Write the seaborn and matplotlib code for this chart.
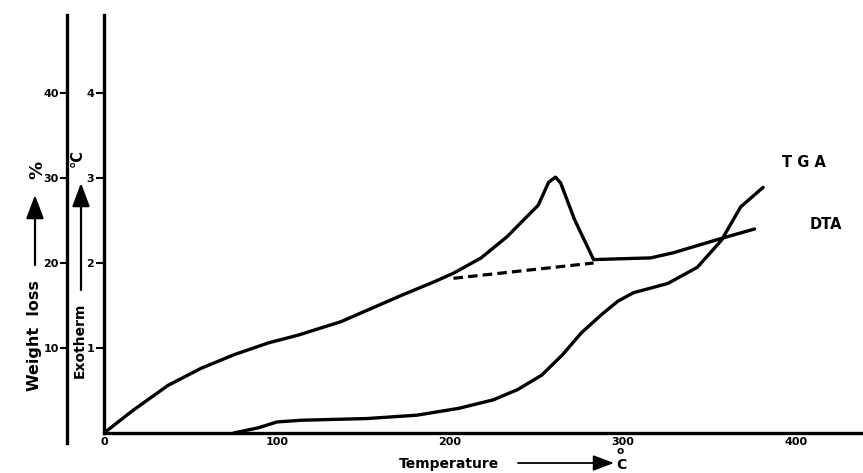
import matplotlib
matplotlib.use("Agg")
import matplotlib.pyplot as plt
import seaborn as sns
import pandas as pd

# ---- data ----
dta_temp = [0, 17, 37, 56, 75, 95, 112, 137, 172, 191, 202, 218, 233, 251, 257, 261, 264, 272, 283,
            299, 316, 329, 357, 376]
dta_val = [0, 0.27, 0.56, 0.76, 0.92, 1.06, 1.15, 1.31, 1.62, 1.78, 1.88, 2.06, 2.31, 2.68, 2.95, 3.01,
           2.94, 2.51, 2.04, 2.05, 2.06, 2.12, 2.29, 2.40]

base_temp = [202, 283]
base_val = [1.82, 2.0]

tga_temp = [75, 89, 100, 114, 152, 181, 205, 225, 239, 253, 265, 276, 288, 297, 306, 326, 343, 357,
            368, 381]
tga_loss = [0, 0.6, 1.3, 1.5, 1.7, 2.1, 2.9, 3.9, 5.1, 6.8, 9.2, 11.8, 14.0, 15.5, 16.5, 17.6, 19.5,
            22.7, 26.6, 28.9]

x_ticks = [0, 100, 200, 300, 400]
exo_ticks = [1, 2, 3, 4]
wl_ticks = [10, 20, 30, 40]

sns.set_style("white")
plt.rcParams["font.family"] = ["DejaVu Sans"]
plt.rcParams["font.weight"] = "bold"
plt.rcParams["text.color"] = "black"
plt.rcParams["axes.edgecolor"] = "black"
plt.rcParams["xtick.color"] = "black"
plt.rcParams["ytick.color"] = "black"

W, H = 863, 473
fig = plt.figure(figsize=(W / 100, H / 100), dpi=100)
x0, y0, ytop = 104, 433, 15
ax = fig.add_axes([x0 / W, (H - y0) / H, (W - x0) / W, (y0 - ytop) / H])
ax.patch.set_alpha(0)

px_per_deg = 1.73
px_per_unit = 85.0
ax.set_xlim(0, (W - x0) / px_per_deg)
ymax = (y0 - ytop) / px_per_unit
ax.set_ylim(0, ymax)

lw = 2.4
df_dta = pd.DataFrame({"T": dta_temp, "v": dta_val})
df_base = pd.DataFrame({"T": base_temp, "v": base_val})
sns.lineplot(data=df_dta, x="T", y="v", ax=ax, color="black", lw=lw, sort=False,
             solid_capstyle="round", solid_joinstyle="round")
sns.lineplot(data=df_base, x="T", y="v", ax=ax, color="black", lw=2.3, sort=False,
             linestyle=(0, (3, 1.6)))

for s in ["top", "right"]:
    ax.spines[s].set_visible(False)
for s in ["left", "bottom"]:
    ax.spines[s].set_linewidth(2.4)
    ax.spines[s].set_color("black")

ax.set_xticks(x_ticks)
ax.set_xticklabels([str(t) for t in x_ticks], fontsize=8, fontweight="bold", color="black")
ax.tick_params(axis="x", direction="in", length=6, width=1.5, pad=3, colors="black")
ax.set_yticks(exo_ticks)
ax.set_yticklabels([str(t) for t in exo_ticks], fontsize=8, fontweight="bold", color="black")
ax.tick_params(axis="y", direction="out", length=6, width=1.5, pad=1, colors="black")
ax.set_xlabel("")
ax.set_ylabel("")

# weight-loss axis
ax2 = ax.twinx()
ax2.patch.set_alpha(0)
ax2.set_ylim(0, ymax * 10)
ax2.yaxis.tick_left()
for s in ["top", "right", "bottom"]:
    ax2.spines[s].set_visible(False)
ax2.spines["left"].set_position(("outward", 37 * 72 / 100))
ax2.spines["left"].set_linewidth(2.4)
ax2.spines["left"].set_color("black")
ax2.spines["left"].set_bounds(-1.2, ymax * 10)
ax2.set_yticks(wl_ticks)
ax2.set_yticklabels([str(t) for t in wl_ticks], fontsize=8, fontweight="bold", color="black")
ax2.tick_params(axis="y", direction="out", length=5, width=1.5, pad=1, colors="black")
df_tga = pd.DataFrame({"T": tga_temp, "w": tga_loss})
sns.lineplot(data=df_tga, x="T", y="w", ax=ax2, color="black", lw=lw, sort=False,
             solid_capstyle="round", solid_joinstyle="round")
ax2.set_ylabel("")
ax2.set_xlabel("")

# curve labels
ax.text(392, 3.18, "T G A", fontsize=10.5, fontweight="bold", ha="left", va="center")
ax.text(408, 2.45, "DTA", fontsize=10.5, fontweight="bold", ha="left", va="center")

# bottom axis caption
def fp(x, y):
    return (x / W, 1 - y / H)

fig.text(*fp(399, 464), "Temperature", fontsize=10, fontweight="bold", ha="left", va="center")
fig.text(*fp(621, 465), "C", fontsize=10, fontweight="bold", ha="center", va="center")
fig.text(*fp(620, 451), "o", fontsize=7.5, fontweight="bold", ha="center", va="center")
ax.annotate("", xy=(614, H - 463), xytext=(518, H - 463), xycoords="figure pixels",
            textcoords="figure pixels",
            arrowprops=dict(arrowstyle="-|>,head_length=0.8,head_width=0.3", lw=1.3,
                            color="black", mutation_scale=16, shrinkA=0, shrinkB=0))

# left captions
fig.text(*fp(35, 336), "Weight  loss", fontsize=11.5, fontweight="bold", rotation=90,
         ha="center", va="center")
ax.annotate("", xy=(35, H - 195), xytext=(35, H - 265), xycoords="figure pixels",
            textcoords="figure pixels",
            arrowprops=dict(arrowstyle="-|>,head_length=0.8,head_width=0.3", lw=1.6,
                            color="black", mutation_scale=18, shrinkA=0, shrinkB=0))
fig.text(*fp(37, 170), "%", fontsize=13, fontweight="bold", rotation=90,
         ha="center", va="center")

fig.text(*fp(80, 340), "Exotherm", fontsize=10, fontweight="bold", rotation=90,
         ha="center", va="center")
ax.annotate("", xy=(81, H - 183), xytext=(81, H - 290), xycoords="figure pixels",
            textcoords="figure pixels",
            arrowprops=dict(arrowstyle="-|>,head_length=0.8,head_width=0.3", lw=1.6,
                            color="black", mutation_scale=18, shrinkA=0, shrinkB=0))
fig.text(*fp(77, 158), "°C", fontsize=10.5, fontweight="bold", rotation=90,
         ha="center", va="center")

fig.savefig("out.png", dpi=100)
